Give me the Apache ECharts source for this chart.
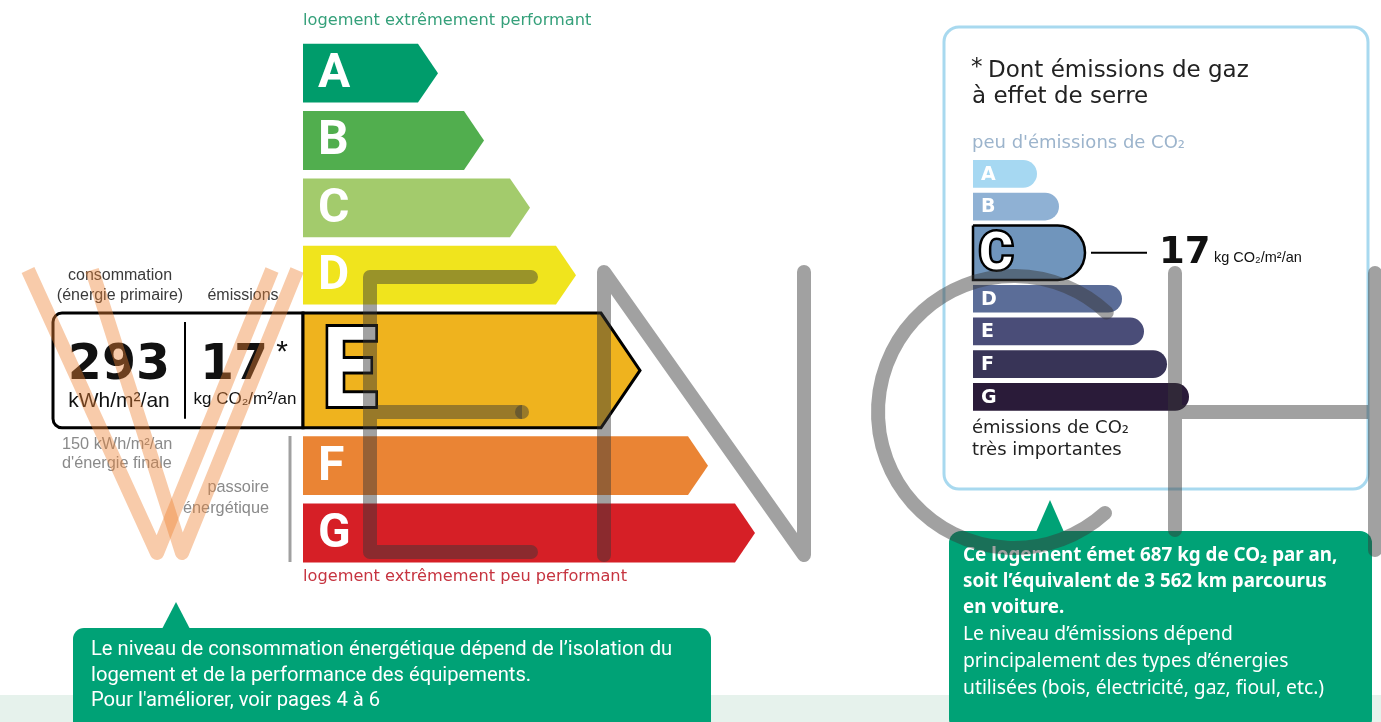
<!DOCTYPE html>
<html><head><meta charset="utf-8">
<script src="https://cdn.jsdelivr.net/npm/echarts@6/dist/echarts.min.js"></script>
<style>html,body{margin:0;padding:0;background:#fff}#c{width:1381px;height:722px}</style>
</head><body><div id="c"></div>
<script>
// ---- data ----
const energyClasses = ['A','B','C','D','E','F','G'];
const energyBarLength = [135, 181, 227, 273, 337, 405, 452];
const energyColors = ['#009c6b','#51ae4e','#a3cb6c','#f0e41d','#efb31e','#ea8434','#d61f26'];
const energyCurrent = 'E';
const energyPrimary = 293;   // kWh/m²/an
const energyFinal = 150;     // kWh/m²/an d'énergie finale
const co2Classes = ['A','B','C','D','E','F','G'];
const co2BarLength = [64, 86, 112, 149, 171, 194, 216];
const co2Colors = ['#a6d8f2','#8fb1d4','#7095bc','#5b6d98','#4a4d78','#383457','#2a1b39'];
const co2Current = 'C';
const co2Value = 17;        // kg CO2/m²/an
const co2Annual = 687;      // kg CO2 / an
const carKm = '3 562';

const SANS = '"Liberation Sans", Arial, sans-serif';
const VERD = '"DejaVu Sans", Verdana, sans-serif';
const ROBO = 'Roboto, "Noto Sans", sans-serif';
const NOTO = '"Noto Sans", "Open Sans", sans-serif';
const GREEN = '#00a276';

const EW = 1.83, EGAP = 8.5;   // highlighted slot weight / gap (energy)
const CW = 1.82, CGAP = 5;     // (co2)

const chart = echarts.init(document.getElementById('c'), null, {renderer: 'canvas'});

function energyItem(params, api) {
  const i = params.dataIndex;
  const cur = energyClasses.indexOf(energyCurrent);
  const s0 = i + (i > cur ? EW - 1 : 0);
  const sl = i === cur ? EW : 1;
  const pA = api.coord([0, s0]);
  const pB = api.coord([api.value(0), s0 + sl]);
  const x0 = pA[0], x1 = pB[0], y0 = pA[1] + EGAP / 2, y1 = pB[1] - EGAP / 2;
  const h = y1 - y0, d = h * 0.34, cy = (y0 + y1) / 2;
  const pts = [[x0, y0], [x1 - d, y0], [x1, cy], [x1 - d, y1], [x0, y1]];
  const children = [];
  if (i === cur) {
    const bx = x0 - 250;
    children.push({type: 'rect', shape: {x: bx, y: y0, width: 250, height: h, r: [9, 0, 0, 9]},
      style: {fill: '#fff', stroke: '#000', lineWidth: 3}});
    children.push({type: 'polygon', shape: {points: pts}, style: {fill: energyColors[i], stroke: '#000', lineWidth: 3, lineJoin: 'miter'}});
    children.push({type: 'line', shape: {x1: x0 - 118, y1: y0 + 9, x2: x0 - 118, y2: y1 - 9}, style: {stroke: '#000', lineWidth: 2}});
    children.push({type: 'text', style: {text: String(energyPrimary), x: x0 - 184, y: y0 + 53, align: 'center', verticalAlign: 'middle',
      fontSize: 49, fontWeight: 'bold', fontFamily: VERD, fill: '#111'}});
    children.push({type: 'text', style: {text: 'kWh/m²/an', x: x0 - 184, y: y0 + 88, align: 'center', verticalAlign: 'middle',
      fontSize: 21, fontFamily: SANS, fill: '#111'}});
    children.push({type: 'text', style: {text: String(co2Value), x: x0 - 69, y: y0 + 53, align: 'center', verticalAlign: 'middle',
      fontSize: 49, fontWeight: 'bold', fontFamily: VERD, fill: '#111'}});
    children.push({type: 'text', style: {text: '*', x: x0 - 21, y: y0 + 40, align: 'center', verticalAlign: 'middle',
      fontSize: 30, fontFamily: SANS, fill: '#111'}});
    children.push({type: 'text', style: {text: 'kg CO₂/m²/an', x: x0 - 58, y: y0 + 86, align: 'center', verticalAlign: 'middle',
      fontSize: 17, fontFamily: SANS, fill: '#111'}});
    children.push({type: 'text', x: x0 + 19, y: cy + 8, scaleX: 0.88,
      style: {text: energyClasses[i], x: 0, y: 0, align: 'left', verticalAlign: 'middle',
      fontSize: 112, fontWeight: 'bold', fontFamily: ROBO, fill: '#fff', stroke: '#000', lineWidth: 6}});
  } else {
    children.push({type: 'polygon', shape: {points: pts}, style: {fill: energyColors[i]}});
    children.push({type: 'text', style: {text: energyClasses[i], x: x0 + 15, y: cy + 2, align: 'left', verticalAlign: 'middle',
      fontSize: 48, fontWeight: 'bold', fontFamily: ROBO, fill: '#fff'}});
  }
  return {type: 'group', children};
}

function co2Item(params, api) {
  const i = params.dataIndex;
  const cur = co2Classes.indexOf(co2Current);
  const s0 = i + (i > cur ? CW - 1 : 0);
  const sl = i === cur ? CW : 1;
  const pA = api.coord([0, s0]);
  const pB = api.coord([api.value(0), s0 + sl]);
  const x0 = pA[0], x1 = pB[0], y0 = pA[1] + CGAP / 2, y1 = pB[1] - CGAP / 2;
  const h = y1 - y0, cy = (y0 + y1) / 2;
  const children = [];
  if (i === cur) {
    children.push({type: 'rect', shape: {x: x0, y: y0, width: x1 - x0, height: h, r: [0, h / 2, h / 2, 0]},
      style: {fill: co2Colors[i], stroke: '#000', lineWidth: 2.5}});
    children.push({type: 'text', style: {text: co2Classes[i], x: x0 + 6, y: cy + 3, align: 'left', verticalAlign: 'middle',
      fontSize: 52, fontWeight: 'bold', fontFamily: ROBO, fill: '#fff', stroke: '#000', lineWidth: 5}});
    children.push({type: 'line', shape: {x1: x1 + 6, y1: cy, x2: x1 + 62, y2: cy}, style: {stroke: '#000', lineWidth: 2}});
    children.push({type: 'text', style: {text: String(co2Value), x: x1 + 74, y: cy + 1, align: 'left', verticalAlign: 'middle',
      fontSize: 37, fontWeight: 'bold', fontFamily: VERD, fill: '#111'}});
    children.push({type: 'text', style: {text: 'kg CO₂/m²/an', x: x1 + 129, y: cy + 5, align: 'left', verticalAlign: 'middle',
      fontSize: 14.5, fontFamily: SANS, fill: '#111'}});
  } else {
    children.push({type: 'rect', shape: {x: x0, y: y0, width: x1 - x0, height: h, r: [0, h / 2, h / 2, 0]},
      style: {fill: co2Colors[i]}});
    children.push({type: 'text', style: {text: co2Classes[i], x: x0 + 8, y: cy + 1, align: 'left', verticalAlign: 'middle',
      fontSize: 19, fontWeight: 'bold', fontFamily: VERD, fill: '#fff'}});
  }
  return {type: 'group', children};
}

function txt(text, x, y, size, fill, family, extra) {
  return {type: 'text', silent: true, z: 5, style: Object.assign({text, x, y, fontSize: size, fill,
    fontFamily: family, align: 'left', verticalAlign: 'middle'}, extra || {})};
}

const WM_GREY = 'rgba(55,55,55,0.47)';
const WM_ORANGE = 'rgba(238,132,52,0.42)';
function wmLine(points, color, cap) {
  return {type: 'polyline', z: 100, silent: true, shape: {points},
    style: {fill: null, stroke: color, lineWidth: 14, lineCap: cap || 'round', lineJoin: 'round'}};
}

const graphics = [
  {type: 'rect', z: 0, silent: true, shape: {x: 0, y: 695, width: 1381, height: 27}, style: {fill: '#e6f2ec'}},
  {type: 'rect', z: 0, silent: true, shape: {x: 944, y: 27, width: 424, height: 462, r: 15}, style: {fill: '#fff', stroke: '#a8d9ef', lineWidth: 3}},
  txt('logement extrêmement performant', 303, 21, 16.2, '#35a07a', VERD),
  txt('logement extrêmement peu performant', 303, 577, 16.2, '#c63440', VERD),
  txt('consommation', 120, 276, 16, '#3a3a3a', SANS, {align: 'center'}),
  txt('(énergie primaire)', 120, 296, 16, '#3a3a3a', SANS, {align: 'center'}),
  txt('émissions', 243, 296, 16, '#3a3a3a', SANS, {align: 'center'}),
  txt(energyFinal + ' kWh/m²/an', 62, 445, 16.3, '#8a8a8a', SANS),
  txt("d'énergie finale", 62, 464, 16.3, '#8a8a8a', SANS),
  txt('passoire', 269, 488, 16.3, '#8a8a8a', SANS, {align: 'right'}),
  txt('énergétique', 269, 509, 16.3, '#8a8a8a', SANS, {align: 'right'}),
  {type: 'line', z: 5, silent: true, shape: {x1: 290, y1: 436, x2: 290, y2: 562}, style: {stroke: '#a0a0a0', lineWidth: 3}},
  txt('*', 971, 68, 23, '#222', VERD),
  txt('Dont émissions de gaz', 988, 71, 23, '#222', VERD),
  txt('à effet de serre', 972, 97, 23, '#222', VERD),
  txt("peu d'émissions de CO₂", 972, 143, 18, '#9cb4cc', VERD),
  txt('émissions de CO₂', 972, 428, 18, '#222', VERD),
  txt('très importantes', 972, 450, 18, '#222', VERD),
  // callouts
  {type: 'rect', z: 1, silent: true, shape: {x: 73, y: 628, width: 638, height: 110, r: 11}, style: {fill: GREEN}},
  {type: 'polygon', z: 1, silent: true, shape: {points: [[162, 629], [176, 602], [190, 629]]}, style: {fill: GREEN}},
  {type: 'rect', z: 1, silent: true, shape: {x: 949, y: 531, width: 423, height: 200, r: 12}, style: {fill: GREEN}},
  {type: 'polygon', z: 1, silent: true, shape: {points: [[1036, 532], [1050, 500], [1064, 532]]}, style: {fill: GREEN}},
  {type: 'text', z: 5, silent: true, style: {
    text: "Le niveau de consommation énergétique dépend de l’isolation du\nlogement et de la performance des équipements.\nPour l'améliorer, voir pages 4 à 6",
    x: 91, y: 637.5, fontSize: 20.2, lineHeight: 25.5, fontFamily: ROBO, fill: '#fff', align: 'left', verticalAlign: 'top'}},
  {type: 'text', z: 5, silent: true, style: {
    text: '{b|Ce logement émet ' + co2Annual + ' kg de CO₂ par an,}\n{b|soit l’équivalent de ' + carKm + ' km parcourus}\n{b|en voiture.}\n{r|Le niveau d’émissions dépend}\n{r|principalement des types d’énergies}\n{r|utilisées (bois, électricité, gaz, fioul, etc.)}',
    x: 963, y: 543, align: 'left', verticalAlign: 'top',
    rich: {
      b: {fontSize: 18.8, fontWeight: 'bold', fontFamily: NOTO, fill: '#fff', lineHeight: 26},
      r: {fontSize: 19.3, fontFamily: NOTO, fill: '#fff', lineHeight: 27}
    }}},
  // watermark (decoration)
  wmLine([[28, 270], [157, 553], [272, 270]], WM_ORANGE, 'butt'),
  wmLine([[92, 270], [182, 553], [297, 270]], WM_ORANGE, 'butt'),
  wmLine([[531, 277], [370, 277], [370, 552], [531, 552]], WM_GREY),
  wmLine([[377, 412], [522, 412]], WM_GREY, 'butt'),
  {type: 'line', z: 100, silent: true, shape: {x1: 522, y1: 412, x2: 522.01, y2: 412},
    style: {stroke: WM_GREY, lineWidth: 14, lineCap: 'round'}},
  wmLine([[604, 555], [604, 272], [804, 555], [804, 272]], WM_GREY),
  {type: 'arc', z: 100, silent: true,
    shape: {cx: 1014, cy: 412, r: 136, startAngle: 48 * Math.PI / 180, endAngle: 313 * Math.PI / 180, clockwise: true},
    style: {fill: null, stroke: WM_GREY, lineWidth: 14, lineCap: 'round'}},
  wmLine([[1175, 273], [1175, 530]], WM_GREY),
  wmLine([[1182, 412], [1368, 412]], WM_GREY, 'butt'),
  wmLine([[1375, 273], [1375, 550]], WM_GREY)
];

const option = {
  animation: false,
  backgroundColor: '#fff',
  grid: [
    {left: 303, top: 39.5, width: 500, height: 67.33 * (6 + EW), containLabel: false},
    {left: 973, top: 157.5, width: 300, height: 32.7 * (6 + CW), containLabel: false}
  ],
  xAxis: [
    {gridIndex: 0, type: 'value', min: 0, max: 500, show: false},
    {gridIndex: 1, type: 'value', min: 0, max: 300, show: false}
  ],
  yAxis: [
    {gridIndex: 0, type: 'value', min: 0, max: 6 + EW, inverse: true, show: false},
    {gridIndex: 1, type: 'value', min: 0, max: 6 + CW, inverse: true, show: false}
  ],
  series: [
    {type: 'custom', xAxisIndex: 0, yAxisIndex: 0, silent: true, clip: false, renderItem: energyItem,
      data: energyClasses.map((c, i) => [energyBarLength[i], i])},
    {type: 'custom', xAxisIndex: 1, yAxisIndex: 1, silent: true, clip: false, renderItem: co2Item,
      data: co2Classes.map((c, i) => [co2BarLength[i], i])}
  ],
  graphic: {elements: graphics}
};
chart.setOption(option);
</script></body></html>
